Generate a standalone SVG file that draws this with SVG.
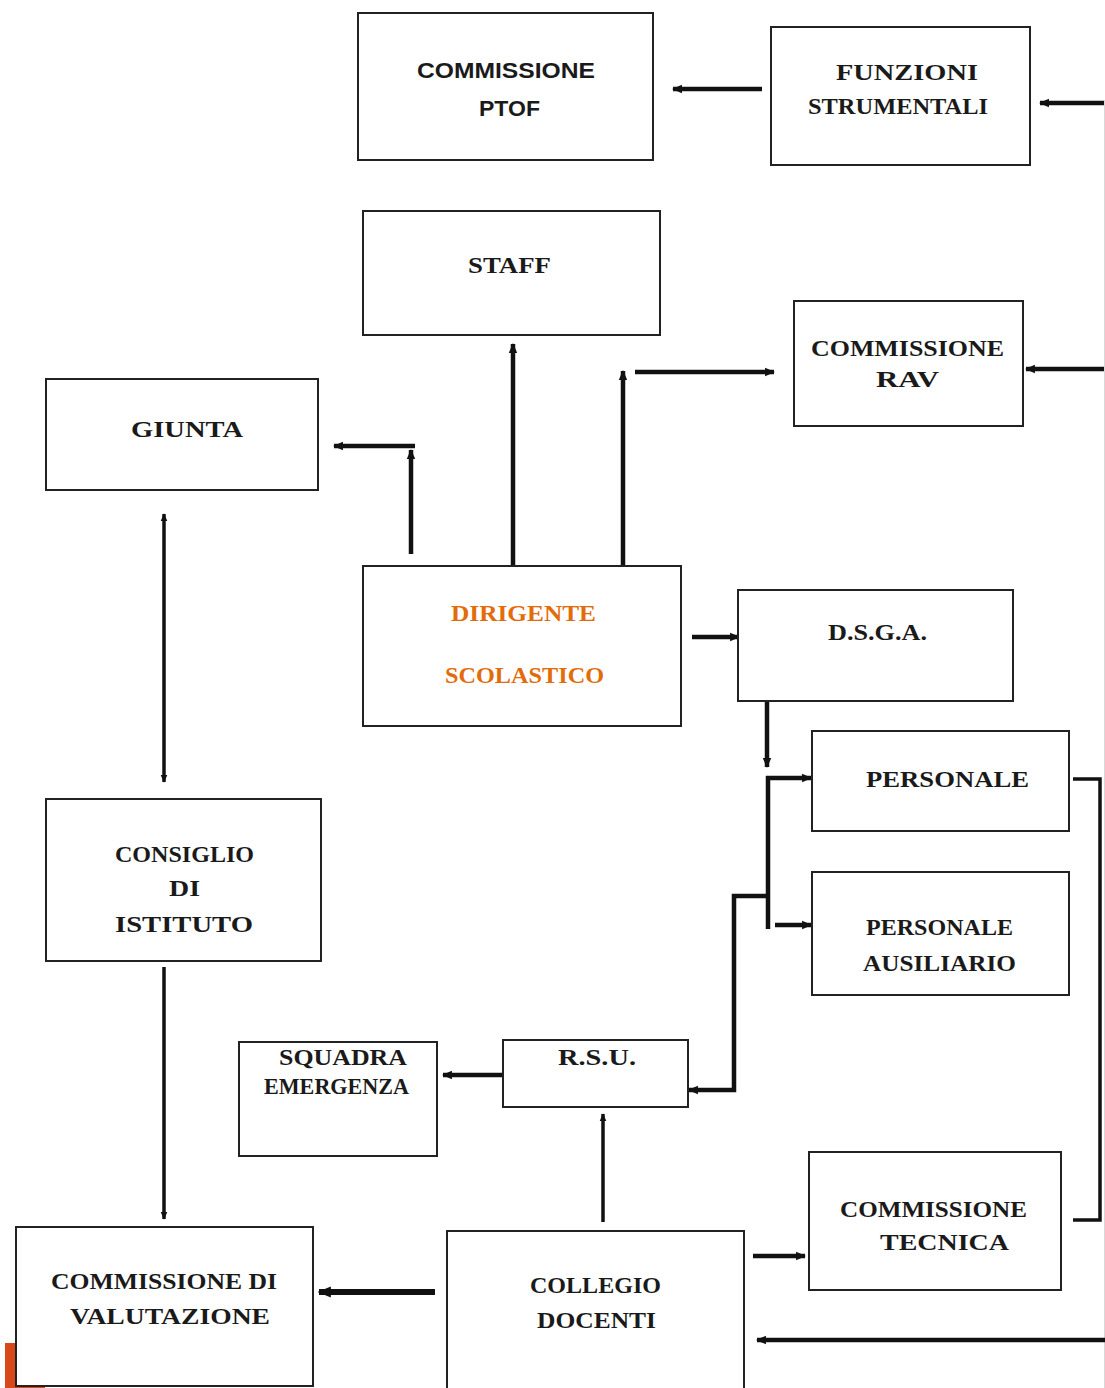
<svg xmlns="http://www.w3.org/2000/svg" width="1105" height="1388" viewBox="0 0 1105 1388">
<defs>
<marker id="ah" viewBox="0 0 4 4" refX="3.6" refY="2" markerWidth="2.2" markerHeight="2.2" orient="auto" markerUnits="strokeWidth">
<path d="M0,0.3 L4,2 L0,3.7 z" fill="#111"/>
</marker>
<marker id="ahs" viewBox="0 0 4 4" refX="0.4" refY="2" markerWidth="2.2" markerHeight="2.2" orient="auto" markerUnits="strokeWidth">
<path d="M4,0.3 L0,2 L4,3.7 z" fill="#111"/>
</marker>
</defs>
<style>
.box{fill:#fff;stroke:#222;stroke-width:2}
.t{font-family:"Liberation Serif","Times New Roman",serif;font-weight:bold;font-size:23.5px;fill:#1a1a1a}
.s{font-family:"Liberation Sans",Arial,sans-serif;font-weight:bold;font-size:22px;fill:#1a1a1a}
.o{fill:#e36c0a}
.c{fill:none;stroke:#111;stroke-width:4.5}
.c3{fill:none;stroke:#111;stroke-width:3.5}
.a{marker-end:url(#ah)}
</style>
<rect width="1105" height="1388" fill="#fff"/>
<rect x="5" y="1343" width="40" height="45" fill="#d8481a"/>
<line x1="1104.5" y1="100" x2="1104.5" y2="1388" stroke="#d8d8d8" stroke-width="1"/>

<g id="connectors">
<path class="c a" d="M762,89 L673,89"/>
<path class="c a" d="M1104,103 L1040,103"/>
<path class="c a" d="M1104,369 L1026,369"/>
<path class="c a" d="M411,554 L411,450"/>
<path class="c a" d="M415,446 L334,446"/>
<path class="c a" d="M513,566 L513,344"/>
<path class="c a" d="M623,566 L623,371"/>
<path class="c a" d="M635,372 L774,372"/>
<path class="c a" d="M692,637 L739,637"/>
<path class="c a" d="M767,701 L767,767"/>
<path class="c" d="M768,776 L768,929"/>
<path class="c a" d="M766,778 L811,778"/>
<path class="c a" d="M775,925 L811,925"/>
<path class="c a" d="M766,896 L734,896 L734,1090 L689,1090"/>
<path class="c a" d="M503,1075 L443,1075"/>
<path class="c3 a" d="M603,1222 L603,1114"/>
<path class="c a" style="stroke-width:6" d="M435,1292 L319,1292"/>
<path class="c a" d="M753,1256 L805,1256"/>
<path class="c3" d="M1073,779 L1100,779 L1100,1220 L1073,1220"/>
<path class="c a" d="M1105,1340 L757,1340"/>
<path class="c3 a" style="marker-start:url(#ahs)" d="M164,514 L164,782"/>
<path class="c3 a" d="M164,967 L164,1219"/>
</g>

<g id="n-ptof"><rect class="box" x="358" y="13" width="295" height="147"/>
<text class="s" x="417" y="78" textLength="178" lengthAdjust="spacingAndGlyphs">COMMISSIONE</text>
<text class="s" x="479" y="116" textLength="61" lengthAdjust="spacingAndGlyphs">PTOF</text></g>

<g id="n-funzioni"><rect class="box" x="771" y="27" width="259" height="138"/>
<text class="t" x="836" y="80" textLength="142" lengthAdjust="spacingAndGlyphs">FUNZIONI</text>
<text class="t" x="808" y="114" textLength="180" lengthAdjust="spacingAndGlyphs">STRUMENTALI</text></g>

<g id="n-staff"><rect class="box" x="363" y="211" width="297" height="124"/>
<text class="t" x="468" y="273" textLength="83" lengthAdjust="spacingAndGlyphs">STAFF</text></g>

<g id="n-rav"><rect class="box" x="794" y="301" width="229" height="125"/>
<text class="t" x="811" y="356" textLength="193" lengthAdjust="spacingAndGlyphs">COMMISSIONE</text>
<text class="t" x="876" y="387" textLength="63" lengthAdjust="spacingAndGlyphs">RAV</text></g>

<g id="n-giunta"><rect class="box" x="46" y="379" width="272" height="111"/>
<text class="t" x="131" y="437" textLength="112" lengthAdjust="spacingAndGlyphs">GIUNTA</text></g>

<g id="n-dirigente"><rect class="box" x="363" y="566" width="318" height="160"/>
<text class="t o" x="451" y="621" textLength="145" lengthAdjust="spacingAndGlyphs">DIRIGENTE</text>
<text class="t o" x="445" y="683" textLength="159" lengthAdjust="spacingAndGlyphs">SCOLASTICO</text></g>

<g id="n-dsga"><rect class="box" x="738" y="590" width="275" height="111"/>
<text class="t" x="828" y="640" textLength="99" lengthAdjust="spacingAndGlyphs">D.S.G.A.</text></g>

<g id="n-personale"><rect class="box" x="812" y="731" width="257" height="100"/>
<text class="t" x="866" y="787" textLength="163" lengthAdjust="spacingAndGlyphs">PERSONALE</text></g>

<g id="n-ausiliario"><rect class="box" x="812" y="872" width="257" height="123"/>
<text class="t" x="866" y="935" textLength="147" lengthAdjust="spacingAndGlyphs">PERSONALE</text>
<text class="t" x="863" y="971" textLength="153" lengthAdjust="spacingAndGlyphs">AUSILIARIO</text></g>

<g id="n-consiglio"><rect class="box" x="46" y="799" width="275" height="162"/>
<text class="t" x="115" y="862" textLength="139" lengthAdjust="spacingAndGlyphs">CONSIGLIO</text>
<text class="t" x="169" y="896" textLength="31" lengthAdjust="spacingAndGlyphs">DI</text>
<text class="t" x="115" y="932" textLength="138" lengthAdjust="spacingAndGlyphs">ISTITUTO</text></g>

<g id="n-squadra"><rect class="box" x="239" y="1042" width="198" height="114"/>
<text class="t" x="279" y="1065" textLength="128" lengthAdjust="spacingAndGlyphs">SQUADRA</text>
<text class="t" x="264" y="1094" textLength="145" lengthAdjust="spacingAndGlyphs">EMERGENZA</text></g>

<g id="n-rsu"><rect class="box" x="503" y="1040" width="185" height="67"/>
<text class="t" x="558" y="1065" textLength="78" lengthAdjust="spacingAndGlyphs">R.S.U.</text></g>

<g id="n-tecnica"><rect class="box" x="809" y="1152" width="252" height="138"/>
<text class="t" x="840" y="1217" textLength="187" lengthAdjust="spacingAndGlyphs">COMMISSIONE</text>
<text class="t" x="880" y="1250" textLength="129" lengthAdjust="spacingAndGlyphs">TECNICA</text></g>

<g id="n-valutazione"><rect class="box" x="16" y="1227" width="297" height="159"/>
<text class="t" x="51" y="1289" textLength="226" lengthAdjust="spacingAndGlyphs">COMMISSIONE DI</text>
<text class="t" x="70" y="1324" textLength="200" lengthAdjust="spacingAndGlyphs">VALUTAZIONE</text></g>

<g id="n-collegio"><rect class="box" x="447" y="1231" width="297" height="160"/>
<text class="t" x="530" y="1293" textLength="131" lengthAdjust="spacingAndGlyphs">COLLEGIO</text>
<text class="t" x="537" y="1328" textLength="119" lengthAdjust="spacingAndGlyphs">DOCENTI</text></g>
</svg>
